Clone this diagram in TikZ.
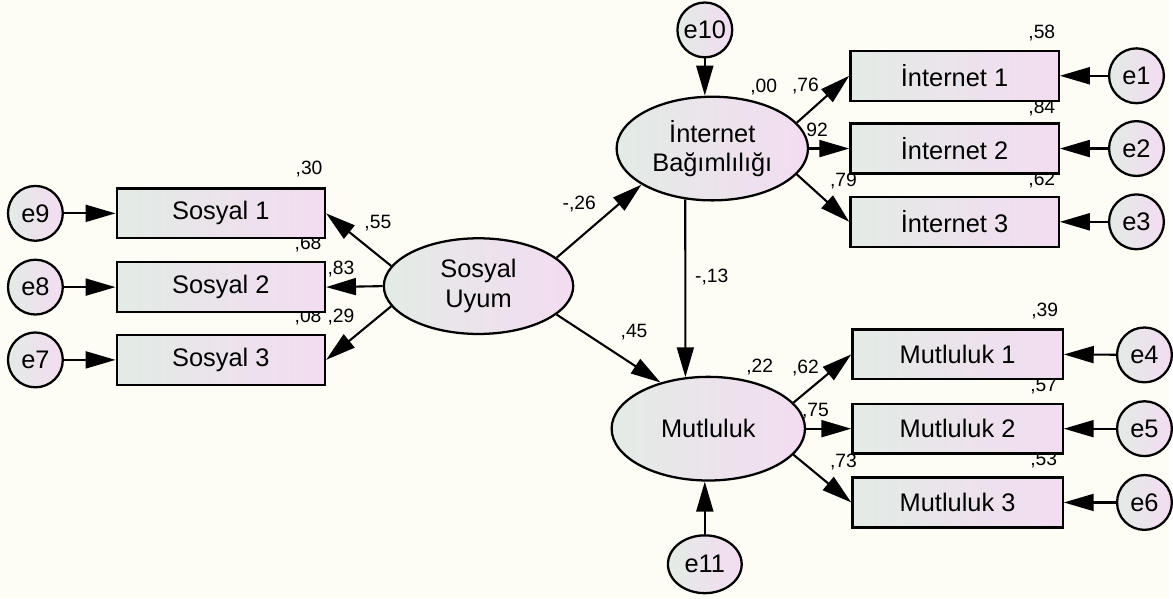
\documentclass[tikz,border=0pt]{standalone}
\usepackage{fontspec}
\setmainfont{Liberation Sans}
\usetikzlibrary{arrows.meta,shapes.geometric}
\definecolor{gl}{HTML}{E3EBE5}
\definecolor{pk}{HTML}{F3DCF1}
\definecolor{bg}{HTML}{FDFDF6}
\def\nfont{\fontsize{14.5}{17}\selectfont}
\def\sfont{\fontsize{11}{12}\selectfont}
\def\darr{\draw[arr]}

\begin{document}
\begin{tikzpicture}[x=0.02cm,y=-0.02cm,
    obs/.style={draw,line width=1.3pt,minimum width=4.18cm,minimum height=1cm,left color=gl,right color=pk,font=\nfont},
    lat/.style={ellipse,draw,line width=1.3pt,minimum width=3.8cm,minimum height=1.92cm,inner sep=0pt,align=center,left color=gl,right color=pk,font=\nfont},
    err/.style={circle,draw,line width=1.3pt,minimum size=1.1cm,inner sep=0pt,left color=gl,right color=pk,font=\nfont},
    num/.style={inner sep=0pt,font=\sfont},
    arr/.style={-{Triangle[length=0.6cm,width=0.34cm]},line width=1.2pt}]
\fill[bg] (0,0) rectangle (1173,600);

\node[num] (r30) at (310,170)   {,30};
\node[num] (p55) at (379,224)   {,55};
\node[num] (r68) at (309,245)   {,68};
\node[num] (p83) at (342,270)   {,83};
\node[num] (r08) at (309,318)   {,08};
\node[num] (p29) at (342,318)   {,29};
\node[num] (p26) at (581,205)   {-,26};
\node[num] (p45) at (636,333)   {,45};
\node[num] (p13) at (714,278)   {-,13};
\node[num] (r00) at (766,87)    {,00};
\node[num] (p76) at (808,86)    {,76};
\node[num] (r58) at (1045,33)   {,58};
\node[num] (p92) at (817,131)   {,92};
\node[num] (r84) at (1045,108)  {,84};
\node[num] (p79) at (846,182)   {,79};
\node[num] (r62) at (1045,181)  {,62};
\node[num] (r22) at (762,368)   {,22};
\node[num] (p62) at (808,369)   {,62};
\node[num] (r39) at (1048,312)  {,39};
\node[num] (p75) at (818,412)   {,75};
\node[num] (r57) at (1047,387)  {,57};
\node[num] (p73) at (846,463)   {,73};
\node[num] (r53) at (1047,461)  {,53};

\node[obs] (s1) at (221.5,214)  {Sosyal 1};
\node[obs] (s2) at (221.5,288)  {Sosyal 2};
\node[obs] (s3) at (221.5,361)  {Sosyal 3};
\node[err] (e9) at (35.5,214)   {e9};
\node[err] (e8) at (35.5,288)   {e8};
\node[err] (e7) at (35.5,361)   {e7};
\node[lat] (su) at (480,287)    {Sosyal\\Uyum};
\node[lat,minimum width=3.84cm,minimum height=2.08cm] (ib) at (714.5,149) {İnternet\\Bağımlılığı};
\node[lat,minimum width=3.88cm,minimum height=2.08cm] (mu) at (710.5,430) {Mutluluk};
\node[err] (e10) at (707,30)    {e10};
\node[err,ellipse,minimum width=1.48cm,minimum height=1.16cm] (e11) at (707,566) {e11};
\node[obs] (i1) at (957.5,76)   {İnternet 1};
\node[obs] (i2) at (957.5,149)  {İnternet 2};
\node[obs] (i3) at (957.5,222.5) {İnternet 3};
\node[err] (e1) at (1140,76)    {e1};
\node[err] (e2) at (1140,149)   {e2};
\node[err] (e3) at (1140,222.5) {e3};
\node[obs,minimum width=4.22cm] (m1) at (960.5,355.5) {Mutluluk 1};
\node[obs,minimum width=4.22cm] (m2) at (960.5,430)   {Mutluluk 2};
\node[obs,minimum width=4.22cm] (m3) at (960.5,504)   {Mutluluk 3};
\node[err] (e4) at (1148,356)   {e4};
\node[err] (e5) at (1148,430)   {e5};
\node[err] (e6) at (1148,504)   {e6};

\darr (e9) -- (s1.west);
\darr (e8) -- (s2.west);
\darr (e7) -- (s3.west);
\darr (su.167) -- (s1.east);
\darr (su.west) -- (s2.east);
\darr (su.193) -- (s3.east);
\darr (su.20) -- (ib.207);
\darr (su.340) -- (mu.136);
\darr (ib.242) -- (mu.114);
\darr (e10) -- (e10 |- ib.north);
\darr (e11) -- (e11 |- mu.south);
\darr (ib.17) -- (i1.west);
\darr (ib.east) -- (i2.west);
\darr (ib.343) -- (i3.west);
\darr (mu.17) -- (m1.west);
\darr (mu.east) -- (m2.west);
\darr (mu.343) -- (m3.west);
\darr (e1) -- (i1.east);
\darr (e2) -- (i2.east);
\darr (e3) -- (i3.east);
\darr (e4) -- (m1.east);
\darr (e5) -- (m2.east);
\darr (e6) -- (m3.east);
\end{tikzpicture}
\end{document}
